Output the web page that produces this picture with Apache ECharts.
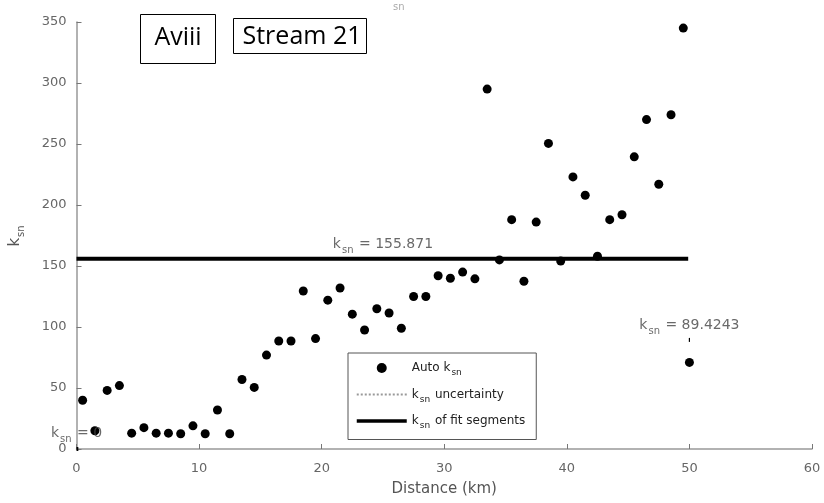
<!DOCTYPE html>
<html>
<head>
<meta charset="utf-8">
<script src="https://cdn.jsdelivr.net/npm/echarts@6/dist/echarts.min.js"></script>
<style>
html,body{margin:0;padding:0;background:#fff;}
#chart{width:824px;height:503px;}
</style>
</head>
<body>
<div id="chart"></div>
<script>
// ---- data ----
var distanceKm = [0.5,1.5,2.5,3.5,4.5,5.5,6.5,7.5,8.5,9.5,10.5,11.5,12.5,13.5,14.5,15.5,16.5,17.5,18.5,19.5,20.5,21.5,22.5,23.5,24.5,25.5,26.5,27.5,28.5,29.5,30.5,31.5,32.5,33.5,34.5,35.5,36.5,37.5,38.5,39.5,40.5,41.5,42.5,43.5,44.5,45.5,46.5,47.5,48.5,49.5,50.0];
var autoKsn = [40,15,48,52,13,17.5,13,13,12.5,19,12.5,32,12.5,57,50.5,77,88.5,88.5,129.5,90.5,122,132,110.5,97.5,115,111.5,99,125,125,142,140,145,139.5,295,155,188,137.5,186,250.5,154,223,208,158,188,192,239.5,270,217,274,345,71];
// fit segments: [startKm, endKm, ksn]
var segStart = [0, 0, 49.95];
var segEnd = [0.15, 49.9, 50.05];
var segKsn = [0, 155.871, 89.4243];
// annotation labels: position (km, ksn) and text value
var annotX = [25, 50, 0];
var annotY = [168, 101, 13];
var annotText = ['155.871', '89.4243', '0'];
var xTicks = [0, 10, 20, 30, 40, 50, 60];
var yTicks = [0, 50, 100, 150, 200, 250, 300, 350];

var FONT = 'DejaVu Sans';
var chart = echarts.init(document.getElementById('chart'));

var scatterData = distanceKm.map(function (d, i) { return [d, autoKsn[i]]; });

var series = [{
  name: 'Auto k_sn',
  type: 'scatter',
  data: scatterData,
  symbol: 'circle',
  symbolSize: 9,
  itemStyle: { color: '#000', opacity: 1 },
  z: 3
}, {
  name: 'k_sn uncertainty',
  type: 'line',
  data: [],
  symbol: 'none',
  lineStyle: { color: '#999', type: 'dotted', width: 1.5 },
  itemStyle: { color: '#999' }
}];
segKsn.forEach(function (v, i) {
  series.push({
    name: 'k_sn of fit segments',
    type: 'line',
    data: [[segStart[i], v], [segEnd[i], v]],
    symbol: 'none',
    lineStyle: { color: '#000', width: 4 },
    itemStyle: { color: '#000' },
    z: 2
  });
});
series.push({
  name: 'annotations',
  type: 'scatter',
  symbolSize: 0,
  silent: true,
  data: annotX.map(function (x, i) { return { value: [x, annotY[i]], txt: annotText[i] }; }),
  label: {
    show: true,
    position: 'inside',
    formatter: function (p) { return '{k|k}{s|sn}{k| = ' + p.data.txt + '}'; },
    rich: {
      k: { fontFamily: FONT, fontSize: 14, color: '#444' },
      s: { fontFamily: FONT, fontSize: 10, color: '#444', padding: [12, 1, 0, 1] }
    }
  },
  z: 4
});

var legendRich = {
  t: { fontFamily: FONT, fontSize: 12, color: '#222' },
  s: { fontFamily: FONT, fontSize: 9, color: '#222', padding: [10, 1, 0, 1] }
};

chart.setOption({
  animation: false,
  backgroundColor: '#fff',
  grid: { left: 74, right: 12, top: 22, bottom: 54, containLabel: false },
  xAxis: {
    type: 'value',
    min: xTicks[0], max: xTicks[xTicks.length - 1], interval: 10,
    name: 'Distance (km)', nameLocation: 'middle', nameGap: 33,
    nameTextStyle: { fontFamily: FONT, fontSize: 15, color: '#555' },
    axisLine: { show: true, onZero: false, lineStyle: { color: '#999', width: 1.5 } },
    axisTick: { show: true, inside: true, length: 5, lineStyle: { color: '#777' } },
    axisLabel: { fontFamily: FONT, fontSize: 13, color: '#666', margin: 13 },
    splitLine: { show: false }
  },
  yAxis: {
    type: 'value',
    min: yTicks[0], max: yTicks[yTicks.length - 1], interval: 50,
    name: '{k|k}{s|sn}', nameLocation: 'middle', nameGap: 50, nameRotate: 90,
    nameTextStyle: { rich: {
      k: { fontFamily: FONT, fontSize: 15, color: '#555' },
      s: { fontFamily: FONT, fontSize: 10, color: '#555', padding: [12, 1, 0, 1] }
    } },
    axisLine: { show: true, lineStyle: { color: '#999', width: 1.5 } },
    axisTick: { show: true, inside: true, length: 5, lineStyle: { color: '#777' } },
    axisLabel: { fontFamily: FONT, fontSize: 13, color: '#666', margin: 10 },
    splitLine: { show: false }
  },
  legend: {
    data: [
      { name: 'Auto k_sn', icon: 'circle', itemStyle: { color: '#000', opacity: 1 } },
      { name: 'k_sn uncertainty', itemStyle: { opacity: 0 } },
      { name: 'k_sn of fit segments', itemStyle: { opacity: 0 }, lineStyle: { width: 3.5, color: '#000' } }
    ],
    orient: 'vertical',
    left: 348, top: 353,
    itemWidth: 50, itemHeight: 10, itemGap: 11,
    padding: [9, 11, 9, 7],
    borderColor: '#555', borderWidth: 1,
    backgroundColor: '#fff',
    selectedMode: false,
    formatter: function (name) {
      var parts = name.split('k_sn');
      return '{t|' + parts[0] + 'k}{s|sn}{t|' + parts[1] + '}';
    },
    textStyle: { rich: legendRich }
  },
  graphic: [
    { type: 'rect', shape: { x: 140.5, y: 14.5, width: 75, height: 49 }, style: { fill: '#fff', stroke: '#000', lineWidth: 1 } },
    { type: 'text', x: 178, y: 38, style: { text: 'Aviii', fontFamily: 'Open Sans', fontSize: 25, fill: '#000', align: 'center', verticalAlign: 'middle' } },
    { type: 'rect', shape: { x: 233.5, y: 18.5, width: 133, height: 35 }, style: { fill: '#fff', stroke: '#000', lineWidth: 1 } },
    { type: 'text', x: 302, y: 37, style: { text: 'Stream 21', fontFamily: 'Open Sans', fontSize: 25, fill: '#000', align: 'center', verticalAlign: 'middle' } },
    { type: 'text', x: 393, y: 2, style: { text: 'sn', fontFamily: FONT, fontSize: 10, fill: '#aaa' } }
  ],
  series: series
});
</script>
</body>
</html>
